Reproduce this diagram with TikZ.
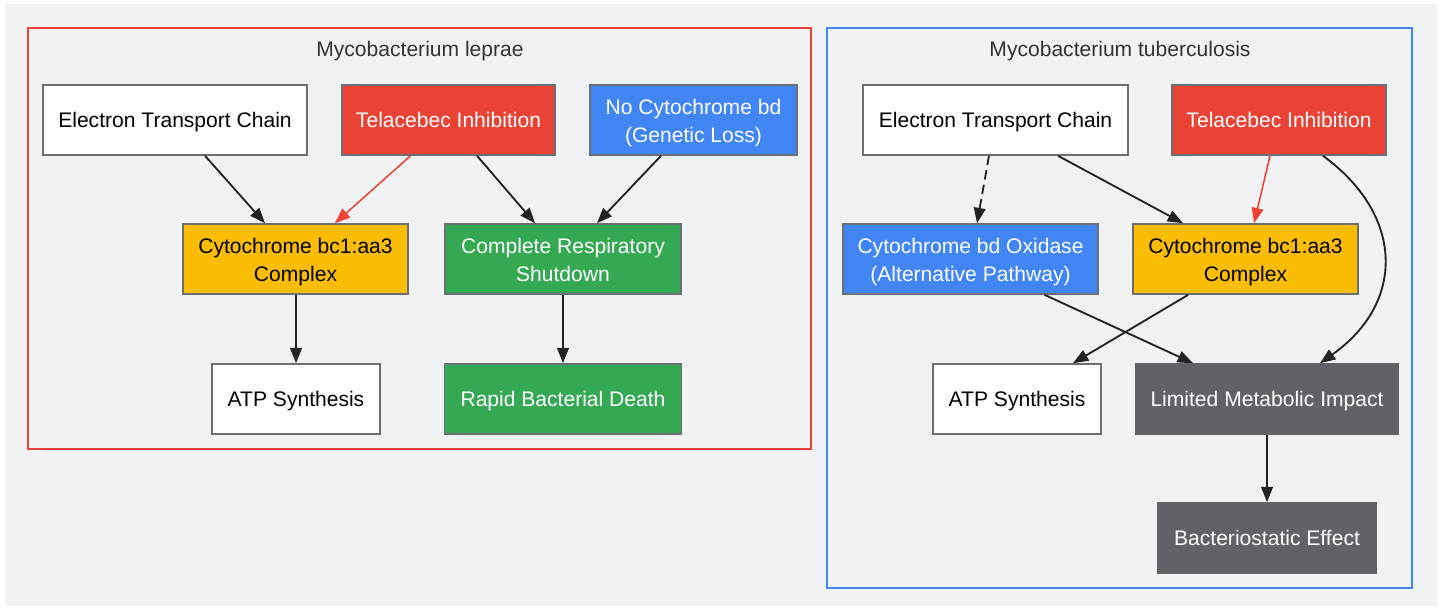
\documentclass[tikz,border=0pt]{standalone}
\usepackage{fontspec}
\setmainfont{Liberation Sans}
\usetikzlibrary{arrows.meta}
\definecolor{bggray}{HTML}{F1F2F4}
\definecolor{gred}{HTML}{EA4335}
\definecolor{gblue}{HTML}{4285F4}
\definecolor{gyellow}{HTML}{FBBC04}
\definecolor{ggreen}{HTML}{34A853}
\definecolor{ggray}{HTML}{5F6368}
\definecolor{bordergray}{HTML}{6B6E72}
\definecolor{linec}{HTML}{222326}
\definecolor{titlec}{HTML}{333333}
\newcommand\twoline[2]{\vtop{\baselineskip=21.3pt\lineskiplimit=0pt\halign{\hfil##\hfil\cr#1\cr#2\cr}}}
\tikzset{
  box/.style 2 args={draw=bordergray, line width=1.2pt, inner sep=0pt,
    minimum width=#1*0.75pt, minimum height=#2*0.75pt,
    text height=14.5pt, text depth=4pt,
    font=\fontsize{15.8pt}{19.5pt}\selectfont},
  two/.style={text height=12pt, text depth=20.6pt},
  plain/.style={fill=white, text=black},
  redbox/.style={fill=gred, text=white},
  bluebox/.style={fill=gblue, text=white},
  yelbox/.style={fill=gyellow, text=black},
  grnbox/.style={fill=ggreen, text=white},
  graybox/.style={fill=ggray, draw=ggray, text=white},
  cluster/.style={line width=1.3pt, fill=none},
  ctitle/.style={text=titlec, anchor=base, inner sep=0pt, font=\fontsize{15.8pt}{19.5pt}\selectfont},
  arr/.style={draw=linec, line width=1.4pt, -{Triangle[length=11.5pt,width=8.8pt]}},
  redarr/.style={draw=gred, line width=1.15pt, -{Triangle[length=11.5pt,width=8.8pt, fill=gred]}},
}
\begin{document}
\begin{tikzpicture}[x=0.75pt,y=-0.75pt]
\useasboundingbox (0,0) rectangle (1444,608);
\fill[white] (0,0) rectangle (1444,608);
\fill[bggray] (5,4) rectangle (1437,606);
% clusters
\draw[cluster, draw=gred] (28,28) rectangle (811,449);
\draw[cluster, draw=gblue] (827,28) rectangle (1412,588);
\node[ctitle] (t1) at (420,56.7) {Mycobacterium leprae};
\node[ctitle] (t2) at (1120,56.7) {Mycobacterium tuberculosis};
% left nodes
\node[box={264}{70}, plain] (etc1) at (175,120) {Electron Transport Chain};
\node[box={213}{70}, redbox] (tel1) at (448.5,120) {Telacebec Inhibition};
\node[box={207}{70}, bluebox, two] (nocyt) at (693.5,120) {\twoline{No Cytochrome bd}{(Genetic Loss)}};
\node[box={225}{70}, yelbox, two] (cyt1) at (295.5,259) {\twoline{Cytochrome bc1:aa3}{Complex}};
\node[box={236}{70}, grnbox, two] (crs) at (563,259) {\twoline{Complete Respiratory}{Shutdown}};
\node[box={168}{70}, plain] (atp1) at (296,399) {ATP Synthesis};
\node[box={237}{70}, grnbox] (rbd) at (563,399) {Rapid Bacterial Death};
% right nodes
\node[box={265}{70}, plain] (etc2) at (995.5,120) {Electron Transport Chain};
\node[box={214}{70}, redbox] (tel2) at (1279,120) {Telacebec Inhibition};
\node[box={255}{70}, bluebox, two] (bd) at (970.5,259) {\twoline{Cytochrome bd Oxidase}{(Alternative Pathway)}};
\node[box={225}{70}, yelbox, two] (cyt2) at (1245.5,259) {\twoline{Cytochrome bc1:aa3}{Complex}};
\node[box={168}{70}, plain] (atp2) at (1017,399) {ATP Synthesis};
\node[box={262}{70}, graybox] (lmi) at (1267,399) {Limited Metabolic Impact};
\node[box={218}{70}, graybox] (be) at (1267,538) {Bacteriostatic Effect};
% left edges
\draw[arr] ([xshift=22.5pt]etc1.south) -- ([xshift=-22.9pt]cyt1.north);
\draw[redarr] ([xshift=-28.5pt]tel1.south) -- ([xshift=29.6pt]cyt1.north);
\draw[arr] ([xshift=21.4pt]tel1.south) -- ([xshift=-21pt]crs.north);
\draw[arr] ([xshift=-24.4pt]nocyt.south) -- ([xshift=25.5pt]crs.north);
\draw[arr] ([xshift=0.375pt]cyt1.south) -- ([xshift=0.375pt]cyt1.south |- atp1.north);
\draw[arr] (crs.south) -- (rbd.north);
% right edges
\draw[arr, dashed, dash pattern=on 7pt off 4pt] ([xshift=-4.9pt]etc2.south) -- ([xshift=4.9pt]bd.north);
\draw[arr] ([xshift=46.9pt]etc2.south) -- ([xshift=-46.9pt]cyt2.north);
\draw[redarr] ([xshift=-6.75pt]tel2.south) -- ([xshift=6.4pt]cyt2.north);
\draw[arr] ([xshift=33pt]tel2.south) .. controls +(61.5pt,-45pt) and +(63.75pt,45pt) .. ([xshift=39.75pt]lmi.north);
\draw[arr] ([xshift=55.5pt]bd.south) -- ([xshift=-55.5pt]lmi.north);
\draw[arr] ([xshift=-43pt]cyt2.south) -- ([xshift=42pt]atp2.north);
\draw[arr] (lmi.south) -- (be.north);
\end{tikzpicture}
\end{document}
